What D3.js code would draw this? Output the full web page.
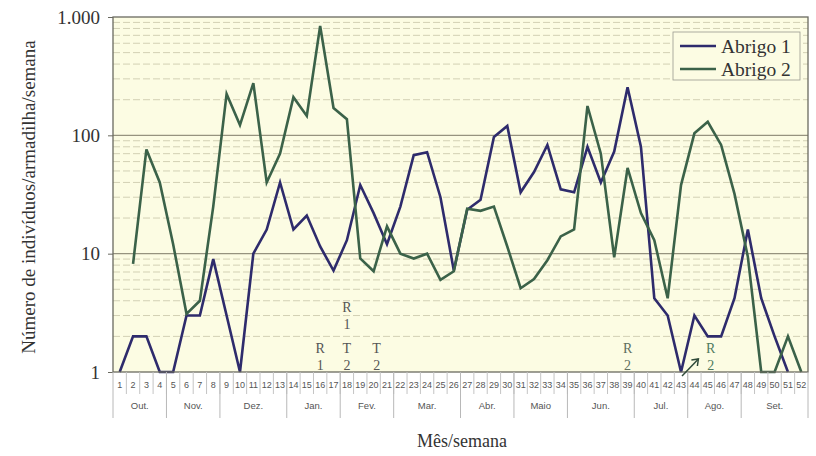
<!DOCTYPE html>
<html><head><meta charset="utf-8">
<script src="https://cdn.jsdelivr.net/npm/d3@7"></script>
<style>body{margin:0;background:#fff}svg{display:block}</style>
</head><body>
<svg id="c" width="816" height="456"></svg>
<script>
const weeks = d3.range(1, 53);
const abrigo1 = [1,2,2,1,1,3,3,9,3,1,10,16,40,16,21,11.5,7.2,13,38,22,12,25,68,72,30,7.2,23.5,28.5,97,120,33,49,83,35,33,80,40,73,255,80,4.2,3,1,3,2,2,4.2,16,4.2,2,1,null];
const abrigo2 = [null,8.2,76,40,12,3.1,4,25,224,122,276,40,70,210,146,840,170,137,9.1,7.1,17,10,9.1,10,6,7.1,24,23,25,11.5,5.1,6.1,8.8,14,16,177,70,9.3,53,22,13,4.2,38,104,130,83,32,9.4,1,1,2,1];
const months = [
  {name:"Out.", from:1, to:4},{name:"Nov.", from:5, to:8},{name:"Dez.", from:9, to:13},
  {name:"Jan.", from:14, to:17},{name:"Fev.", from:18, to:21},{name:"Mar.", from:22, to:26},
  {name:"Abr.", from:27, to:30},{name:"Maio", from:31, to:34},{name:"Jun.", from:35, to:39},
  {name:"Jul.", from:40, to:43},{name:"Ago.", from:44, to:47},{name:"Set.", from:48, to:52}];
const yTicks = [1, 10, 100, 1000];
const yTickLabels = ["1", "10", "100", "1.000"];
const annotations = [
  {week:16, lines:["R","1"], tier:0, color:"#555"},
  {week:18, lines:["T","2"], tier:0, color:"#555"},
  {week:18, lines:["R","1"], tier:1, color:"#555"},
  {week:20, lines:["T","2"], tier:0, color:"#555", dx:3},
  {week:39, lines:["R","2"], tier:0, color:"#5e6e5e"},
  {week:45, lines:["R","2"], tier:0, color:"#4e7a5e", dx:3}];
const seriesNames = ["Abrigo 1", "Abrigo 2"];
const colors = ["#2e2b6c", "#3b6249"];

const svg = d3.select("#c");
const L = 113, R = 808, T = 17, B = 372;
const x = d3.scaleBand().domain(weeks).range([L, R]);
const y = d3.scaleLog().domain([1, 1000]).range([B, T]);
const cx = w => x(w) + x.bandwidth() / 2;

svg.append("rect").attr("x", L).attr("y", T).attr("width", R - L).attr("height", B - T).attr("fill", "#fcfce3");

// minor grid
const minor = [];
[1, 10, 100].forEach(d => { for (let m = 2; m <= 9; m++) minor.push(d * m); });
svg.append("g").selectAll("line").data(minor).join("line")
  .attr("x1", L).attr("x2", R).attr("y1", d => y(d)).attr("y2", d => y(d))
  .attr("stroke", "#d2d0b4").attr("stroke-width", 1).attr("stroke-dasharray", "7,3");
svg.append("g").selectAll("line").data([10, 100]).join("line")
  .attr("x1", L).attr("x2", R).attr("y1", d => y(d)).attr("y2", d => y(d))
  .attr("stroke", "#96937f").attr("stroke-width", 1.2);

// lines
const line = d3.line().defined(d => d.v != null).x(d => cx(d.w)).y(d => y(d.v));
[abrigo1, abrigo2].forEach((s, i) => {
  svg.append("path").datum(weeks.map((w, j) => ({w, v: s[j]})))
    .attr("d", line).attr("fill", "none").attr("stroke", colors[i])
    .attr("stroke-width", 2.6).attr("stroke-linejoin", "miter");
});

// border
svg.append("rect").attr("x", L).attr("y", T).attr("width", R - L).attr("height", B - T)
  .attr("fill", "none").attr("stroke", "#6a6a60").attr("stroke-width", 1.3);

// y axis ticks & labels
const yAxis = d3.axisLeft(y).tickValues(yTicks).tickFormat((d, i) => yTickLabels[i]).tickSize(5).tickPadding(8);
const ga = svg.append("g").attr("transform", `translate(${L},0)`).call(yAxis);
ga.select(".domain").remove();
ga.selectAll("line").attr("stroke", "#6a6a60");
ga.selectAll("text").attr("font-family", "Liberation Serif, serif").attr("font-size", 19).attr("fill", "#333");
svg.append("text").attr("transform", "translate(35,197) rotate(-90)").attr("text-anchor", "middle")
  .attr("font-family", "Liberation Serif, serif").attr("font-size", 19).attr("fill", "#333")
  .text("Número de indivíduos/armadilha/semana");

// x axis: week row
const gx = svg.append("g");
gx.selectAll("line.wk").data(weeks.slice(1)).join("line").attr("class", "wk")
  .attr("x1", d => x(d)).attr("x2", d => x(d)).attr("y1", B).attr("y2", B + 22)
  .attr("stroke", "#c4c4c4").attr("stroke-width", 1);
gx.selectAll("text.wk").data(weeks).join("text").attr("class", "wk")
  .attr("x", d => cx(d)).attr("y", B + 16).attr("text-anchor", "middle")
  .attr("font-family", "Liberation Sans, Arial, sans-serif").attr("font-size", 9).attr("fill", "#555")
  .text(d => d);
const sepWeeks = months.map(m => m.from).concat([53]);
gx.selectAll("line.mo").data(sepWeeks).join("line").attr("class", "mo")
  .attr("x1", d => d === 53 ? R : x(d)).attr("x2", d => d === 53 ? R : x(d)).attr("y1", B).attr("y2", B + 46)
  .attr("stroke", "#b8b8b8").attr("stroke-width", 1);
gx.selectAll("text.mo").data(months).join("text").attr("class", "mo")
  .attr("x", d => (x(d.from) + x(d.to) + x.bandwidth()) / 2).attr("y", B + 37).attr("text-anchor", "middle")
  .attr("font-family", "Liberation Sans, Arial, sans-serif").attr("font-size", 9.5).attr("fill", "#555")
  .text(d => d.name);
svg.append("text").attr("x", 462).attr("y", 447).attr("text-anchor", "middle")
  .attr("font-family", "Liberation Serif, serif").attr("font-size", 18).attr("fill", "#333")
  .text("Mês/semana");

// annotations
annotations.forEach(a => {
  a.lines.forEach((t, k) => {
    svg.append("text").attr("x", cx(a.week) + (a.dx || 0)).attr("y", B - 19 - a.tier * 41 + k * 17)
      .attr("text-anchor", "middle").attr("font-family", "Liberation Serif, serif")
      .attr("font-size", 14).attr("fill", a.color).text(t);
  });
});
// arrow
const ax1 = cx(43) + 1, ay1 = B + 4, ax2 = cx(44) + 4, ay2 = B - 13;
svg.append("line").attr("x1", ax1).attr("y1", ay1).attr("x2", ax2).attr("y2", ay2)
  .attr("stroke", "#2f4a3a").attr("stroke-width", 1.5);
svg.append("path").attr("d", `M${ax2 - 7},${ay2 + 1}L${ax2},${ay2}L${ax2 - 1},${ay2 + 7}`)
  .attr("fill", "none").attr("stroke", "#2f4a3a").attr("stroke-width", 1.5);

// legend
const lg = svg.append("g");
lg.append("rect").attr("x", 673).attr("y", 32).attr("width", 127).attr("height", 48)
  .attr("fill", "#fcfce3").attr("stroke", "#9a9a90").attr("stroke-width", 0.8);
seriesNames.forEach((n, i) => {
  lg.append("line").attr("x1", 680).attr("x2", 716).attr("y1", 46 + i * 23).attr("y2", 46 + i * 23)
    .attr("stroke", colors[i]).attr("stroke-width", 2.4);
  lg.append("text").attr("x", 721).attr("y", 53 + i * 23)
    .attr("font-family", "Liberation Serif, serif").attr("font-size", 19.5).attr("fill", "#333").text(n);
});
</script>
</body></html>
